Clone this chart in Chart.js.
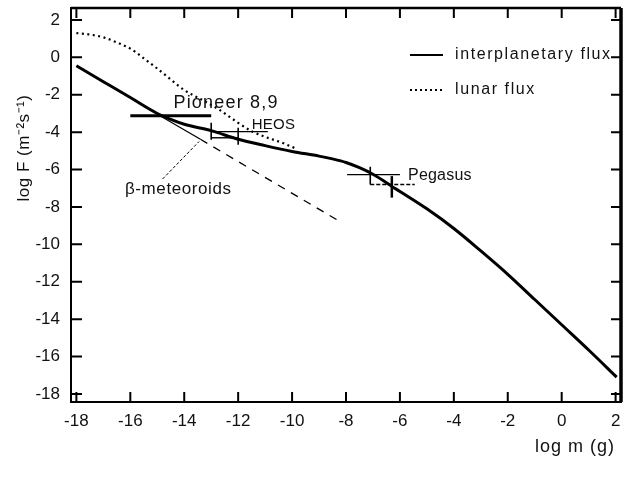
<!DOCTYPE html>
<html>
<head>
<meta charset="utf-8">
<script src="https://cdn.jsdelivr.net/npm/chart.js@4.4.1/dist/chart.umd.min.js"></script>
<style>
  html, body { margin: 0; padding: 0; background: #fff; }
  #wrap { width: 626px; height: 481px; position: relative; }
</style>
</head>
<body>
<div id="wrap"><canvas id="fluxChart"></canvas></div>
<script>
// interplanetary flux (solid)
const logMInter = [-18, -17, -16, -15, -14.5, -14, -13, -12, -11, -10, -9, -8.5, -8, -7.5, -7, -6.5, -6.3, -6, -5, -4, -3, -2, -1, 0, 1, 2.04];
const logFInter = [-0.45, -1.3, -2.15, -3.0, -3.32, -3.58, -3.92, -4.38, -4.72, -5.03, -5.28, -5.43, -5.62, -5.9, -6.25, -6.7, -6.9, -7.17, -8.1, -9.15, -10.35, -11.6, -12.95, -14.3, -15.65, -17.1];

// lunar flux (dotted)
const logMLunar = [-18, -17.5, -17, -16.5, -16, -15.5, -15, -14.5, -14, -13.3, -12.7, -12, -11.5, -11, -10.4, -9.9];
const logFLunar = [1.3, 1.22, 1.07, 0.8, 0.47, -0.05, -0.6, -1.18, -1.75, -2.3, -2.8, -3.5, -3.95, -4.25, -4.55, -4.85];

// beta-meteoroids (thin, dashed after the second point)
const logMBeta = [-14.9, -13.4, -8.2];
const logFBeta = [-3.12, -4.38, -8.8];

// pointer from the beta-meteoroids label
const logMPointer = [-14.8, -13.45];
const logFPointer = [-6.5, -4.5];

// measurements: horizontal and vertical error bars
const barNames = ['Pioneer 8,9', 'HEOS a', 'HEOS b', 'Pegasus a', 'Pegasus b'];
const barM = [-14.5, -13.0, -12.0, -7.1, -6.3];
const barF = [-3.12, -3.97, -4.3, -6.27, -6.8];
const barMLo = [-16.0, -13.0, -13.0, -7.96, -7.1];
const barMHi = [-13.0, -10.9, -12.0, -6.0, -5.45];
const barFLo = [null, -4.4, -4.67, -6.8, -7.5];
const barFHi = [null, -3.5, -3.76, -5.85, -6.35];

const xTicks = [-18, -16, -14, -12, -10, -8, -6, -4, -2, 0, 2];
const yTicks = [2, 0, -2, -4, -6, -8, -10, -12, -14, -16, -18];

const toPoints = (xs, ys) => xs.map((x, i) => ({ x: x, y: ys[i] }));

const datasets = [
  {
    label: 'interplanetary flux',
    data: toPoints(logMInter, logFInter),
    borderColor: '#000',
    borderWidth: 3,
    cubicInterpolationMode: 'monotone',
  },
  {
    label: 'lunar flux',
    data: toPoints(logMLunar, logFLunar),
    borderColor: '#000',
    borderWidth: 2.2,
    borderDash: [2, 3.5],
    cubicInterpolationMode: 'monotone',
  },
  {
    label: 'beta-meteoroids',
    data: toPoints(logMBeta, logFBeta),
    borderColor: '#000',
    borderWidth: 1.3,
    segment: {
      borderDash: (ctx) => (ctx.p0DataIndex >= 1 ? [8, 7] : undefined),
    },
  },
  {
    label: 'pointer',
    data: toPoints(logMPointer, logFPointer),
    borderColor: '#000',
    borderWidth: 1,
    borderDash: [3, 2],
  },
];

barNames.forEach((name, i) => {
  const isPioneer = i === 0;
  datasets.push({
    label: name + ' h',
    data: [{ x: barMLo[i], y: barF[i] }, { x: barMHi[i], y: barF[i] }],
    borderColor: '#000',
    borderWidth: isPioneer ? 3 : 1.4,
    borderDash: i === 4 ? [4, 2] : undefined,
  });
  if (barFLo[i] !== null) {
    datasets.push({
      label: name + ' v',
      data: [{ x: barM[i], y: barFLo[i] }, { x: barM[i], y: barFHi[i] }],
      borderColor: '#000',
      borderWidth: i === 4 ? 2.5 : 1.6,
    });
  }
});

const FONT = '"Liberation Sans", Arial, sans-serif';

const decorations = {
  id: 'decorations',
  afterDraw(chart) {
    const { ctx, chartArea: a, scales } = chart;
    const xs = scales.x, ys = scales.y;
    ctx.save();
    ctx.strokeStyle = '#000';
    ctx.fillStyle = '#111';

    // top and right frame lines
    ctx.lineWidth = 2.5;
    ctx.beginPath();
    ctx.moveTo(a.left, a.top);
    ctx.lineTo(a.right, a.top);
    ctx.stroke();
    ctx.lineWidth = 3.5;
    ctx.beginPath();
    ctx.moveTo(a.right, a.top);
    ctx.lineTo(a.right, a.bottom);
    ctx.stroke();

    // inward ticks
    ctx.lineWidth = 2;
    xTicks.forEach((v) => {
      const px = xs.getPixelForValue(v);
      ctx.beginPath();
      ctx.moveTo(px, a.bottom);
      ctx.lineTo(px, a.bottom - 10);
      ctx.moveTo(px, a.top);
      ctx.lineTo(px, a.top + 10);
      ctx.stroke();
    });
    yTicks.forEach((v) => {
      const py = ys.getPixelForValue(v);
      ctx.beginPath();
      ctx.moveTo(a.left, py);
      ctx.lineTo(a.left + 11, py);
      ctx.moveTo(a.right, py);
      ctx.lineTo(a.right - 10, py);
      ctx.stroke();
    });

    // annotations
    const label = (text, m, f, size, spacing) => {
      ctx.font = size + 'px ' + FONT;
      ctx.letterSpacing = spacing + 'px';
      ctx.textAlign = 'left';
      ctx.textBaseline = 'middle';
      ctx.fillText(text, xs.getPixelForValue(m), ys.getPixelForValue(f));
    };
    label('Pioneer 8,9', -14.4, -2.45, 18, 1.2);
    label('HEOS', -11.5, -3.6, 15, 0.3);
    label('Pegasus', -5.7, -6.3, 16, 0.2);
    label('\u03B2-meteoroids', -16.2, -7.05, 17, 0.6);

    // legend
    const lx = a.left + 339, ly1 = a.top + 47, ly2 = a.top + 82;
    ctx.lineWidth = 2;
    ctx.beginPath();
    ctx.moveTo(lx, ly1);
    ctx.lineTo(lx + 33, ly1);
    ctx.stroke();
    ctx.lineWidth = 1.8;
    ctx.setLineDash([2, 3]);
    ctx.beginPath();
    ctx.moveTo(lx, ly2);
    ctx.lineTo(lx + 33, ly2);
    ctx.stroke();
    ctx.setLineDash([]);
    ctx.font = '16px ' + FONT;
    ctx.letterSpacing = '1.6px';
    ctx.textAlign = 'left';
    ctx.textBaseline = 'middle';
    ctx.fillText('interplanetary flux', lx + 45, ly1);
    ctx.fillText('lunar flux', lx + 45, ly2);

    // axis titles
    ctx.letterSpacing = '1px';
    ctx.font = '18px ' + FONT;
    ctx.textAlign = 'right';
    ctx.fillText('log m (g)', a.right - 6, a.bottom + 45);
    ctx.letterSpacing = '0.5px';
    ctx.font = '17px ' + FONT;
    ctx.translate(24, 148);
    ctx.rotate(-Math.PI / 2);
    ctx.textAlign = 'center';
    ctx.fillText('log F (m\u207B\u00B2s\u207B\u00B9)', 0, 0);
    ctx.restore();
  },
};

new Chart(document.getElementById('fluxChart'), {
  type: 'line',
  data: { datasets: datasets },
  options: {
    responsive: true,
    maintainAspectRatio: false,
    animation: false,
    events: [],
    layout: { padding: { top: 8, right: 5, left: 0, bottom: 0 } },
    elements: { point: { radius: 0 }, line: { fill: false } },
    plugins: {
      legend: { display: false },
      tooltip: { enabled: false },
    },
    scales: {
      x: {
        type: 'linear',
        min: -18.2,
        max: 2.2,
        afterBuildTicks: (scale) => { scale.ticks = xTicks.map((v) => ({ value: v })); },
        afterFit: (scale) => {
          scale.height = 79;
          scale.paddingLeft = 0;
          scale.paddingRight = 0;
        },
        grid: { display: false, drawTicks: false },
        border: { display: true, color: '#000', width: 2 },
        ticks: { color: '#111', padding: 9, maxRotation: 0, font: { family: FONT, size: 17 } },
      },
      y: {
        type: 'linear',
        min: -18.43,
        max: 2.64,
        afterBuildTicks: (scale) => { scale.ticks = yTicks.map((v) => ({ value: v })); },
        afterFit: (scale) => {
          scale.width = 71;
          scale.paddingTop = 0;
          scale.paddingBottom = 0;
        },
        grid: { display: false, drawTicks: false },
        border: { display: true, color: '#000', width: 2 },
        ticks: { color: '#111', padding: 11, font: { family: FONT, size: 17 } },
      },
    },
  },
  plugins: [decorations],
});
</script>
</body>
</html>
